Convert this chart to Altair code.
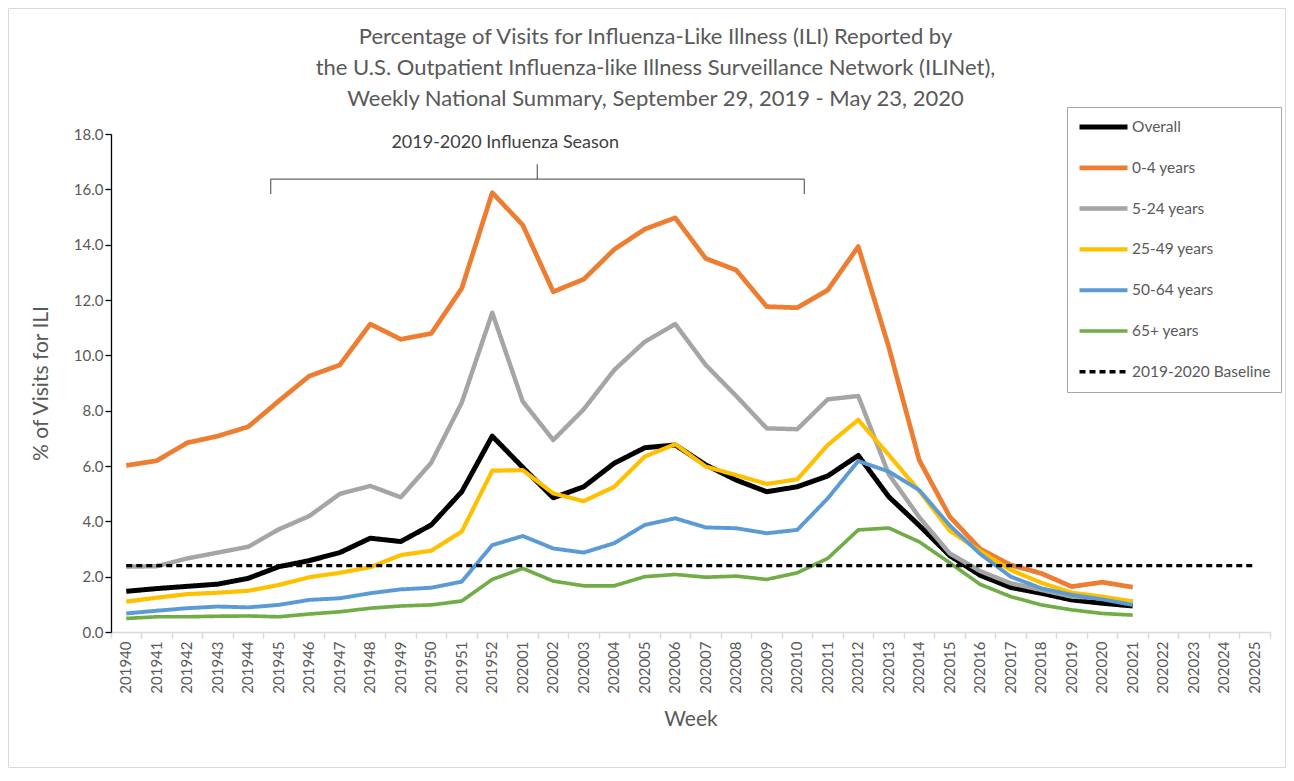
import altair as alt
import pandas as pd

WEEKS = ["201940", "201941", "201942", "201943", "201944", "201945", "201946",
         "201947", "201948", "201949", "201950", "201951", "201952",
         "202001", "202002", "202003", "202004", "202005", "202006", "202007",
         "202008", "202009", "202010", "202011", "202012", "202013", "202014",
         "202015", "202016", "202017", "202018", "202019", "202020", "202021",
         "202022", "202023", "202024", "202025"]

OVERALL = [1.47, 1.57, 1.65, 1.73, 1.94, 2.36, 2.58, 2.87, 3.39, 3.27, 3.87, 5.07,
           7.08, 5.95, 4.85, 5.25, 6.10, 6.66, 6.76, 6.04, 5.49, 5.07, 5.25, 5.64,
           6.38, 4.89, 3.85, 2.76, 2.05, 1.61, 1.40, 1.16, 1.04, 0.94]
AGE_0_4 = [6.02, 6.19, 6.84, 7.08, 7.42, 8.35, 9.25, 9.65, 11.13, 10.58, 10.79, 12.42,
           15.88, 14.71, 12.30, 12.75, 13.83, 14.56, 14.97, 13.50, 13.08, 11.76, 11.72,
           12.36, 13.93, 10.30, 6.21, 4.17, 3.00, 2.42, 2.12, 1.64, 1.80, 1.62]
AGE_5_24 = [2.36, 2.38, 2.66, 2.87, 3.08, 3.71, 4.19, 4.99, 5.28, 4.87, 6.12, 8.29,
            11.54, 8.33, 6.94, 8.05, 9.47, 10.49, 11.13, 9.65, 8.53, 7.36, 7.33, 8.41,
            8.53, 5.70, 4.15, 2.84, 2.20, 1.76, 1.52, 1.28, 1.22, 1.10]
AGE_25_49 = [1.10, 1.24, 1.37, 1.42, 1.49, 1.70, 1.98, 2.14, 2.34, 2.78, 2.94, 3.63,
             5.83, 5.85, 5.01, 4.73, 5.25, 6.34, 6.79, 5.98, 5.67, 5.35, 5.52, 6.76,
             7.67, 6.40, 5.10, 3.66, 2.92, 2.24, 1.78, 1.42, 1.28, 1.10]
AGE_50_64 = [0.67, 0.77, 0.86, 0.92, 0.89, 0.98, 1.16, 1.22, 1.40, 1.54, 1.60, 1.82,
             3.14, 3.47, 3.02, 2.87, 3.21, 3.87, 4.11, 3.78, 3.75, 3.57, 3.69, 4.83,
             6.18, 5.80, 5.13, 3.85, 2.82, 2.00, 1.58, 1.34, 1.18, 0.98]
AGE_65 = [0.49, 0.55, 0.55, 0.57, 0.58, 0.55, 0.65, 0.73, 0.86, 0.94, 0.98, 1.12,
          1.90, 2.30, 1.84, 1.67, 1.67, 2.00, 2.08, 1.98, 2.02, 1.90, 2.14, 2.66,
          3.69, 3.76, 3.26, 2.50, 1.72, 1.28, 0.98, 0.80, 0.67, 0.61]
BASELINE = 2.4

SERIES = ["Overall", "0-4 years", "5-24 years", "25-49 years", "50-64 years",
          "65+ years", "2019-2020 Baseline"]
VALUES = [OVERALL, AGE_0_4, AGE_5_24, AGE_25_49, AGE_50_64, AGE_65]
COLORS = ["#000000", "#ED7D31", "#A5A5A5", "#FFC000", "#5B9BD5", "#70AD47", "#000000"]
WIDTHS = [5, 3.4, 3.4, 3.4, 3.4, 3.4, 1.5]
DASHES = [[1, 0], [1, 0], [1, 0], [1, 0], [1, 0], [1, 0], [6, 4]]

TITLE = ["Percentage of Visits for Influenza-Like Illness (ILI) Reported by",
         "the U.S. Outpatient Influenza-like Illness Surveillance Network (ILINet),",
         "Weekly National Summary, September 29, 2019 - May 23, 2020"]
SEASON_LABEL = "2019-2020 Influenza Season"
SEASON_START, SEASON_MID, SEASON_END = "201945", "202001", "202010"
LABEL_WEEK = "201952"

rows = []
for name, vals in zip(SERIES[:-1], VALUES):
    for w, v in zip(WEEKS, vals):
        rows.append({"week": w, "series": name, "value": v})
for w in WEEKS:
    rows.append({"week": w, "series": SERIES[-1], "value": BASELINE})
df = pd.DataFrame(rows)

FONT = "Lato"
GRAY = "#595959"
W, H = 1159, 498
PAD = {"left": 103, "top": 126, "right": 16, "bottom": 136}

x_scale = alt.Scale(domain=WEEKS, type="band", paddingInner=0, paddingOuter=0)
y_scale = alt.Scale(domain=[0, 18], nice=False)

x_axis = alt.Axis(title="Week", labelAngle=270, labelFontSize=15, labelColor=GRAY,
                  labelFont=FONT, domainColor="#d9d9d9", domainWidth=1.5,
                  tickColor="#d9d9d9", tickWidth=1.5, tickSize=6, bandPosition=1,
                  tickExtra=True, labelPadding=3, titleFontSize=21, titleColor=GRAY,
                  titleFont=FONT, titleFontWeight="normal", titlePadding=15, grid=False)
y_axis = alt.Axis(title="% of Visits for ILI", values=[0, 2, 4, 6, 8, 10, 12, 14, 16, 18],
                  format=".1f", labelFontSize=15, labelColor=GRAY, labelFont=FONT,
                  domainColor="#000000", domainWidth=1.3, tickColor="#000000",
                  tickWidth=1.3, tickSize=6, labelPadding=2, titleFontSize=21,
                  titleColor=GRAY, titleFont=FONT, titleFontWeight="normal",
                  titlePadding=22, grid=False)

legend = alt.Legend(orient="none", legendX=956, legendY=-27, symbolType="stroke",
                    symbolSize=2304, clipHeight=20, rowPadding=20.8, labelFontSize=15.5,
                    labelColor=GRAY, labelFont=FONT, labelOffset=2,
                    strokeColor="#a6a6a6", padding=10, fillColor="white",
                    direction="vertical", labelLimit=300)

lines = alt.Chart(df).mark_line(strokeJoin="round", strokeCap="butt").encode(
    x=alt.X("week:O", scale=x_scale, bandPosition=0.5, axis=x_axis),
    y=alt.Y("value:Q", scale=y_scale, axis=y_axis),
    color=alt.Color("series:N", scale=alt.Scale(domain=SERIES, range=COLORS),
                    legend=legend, title=None),
    strokeWidth=alt.StrokeWidth("series:N", scale=alt.Scale(domain=SERIES, range=WIDTHS),
                                title=None),
    strokeDash=alt.StrokeDash("series:N", scale=alt.Scale(domain=SERIES, range=DASHES),
                              title=None),
    order=alt.Order("week:O"),
)

bdf = pd.DataFrame({"start": [SEASON_START], "mid": [SEASON_MID], "end": [SEASON_END],
                    "label": [SEASON_LABEL], "lw": [LABEL_WEEK]})
BR_Y, BR_LOW, BR_HIGH = 16.37, 15.83, 16.91
BR_COLOR = "#404040"

br_h = alt.Chart(bdf).mark_rule(color=BR_COLOR, strokeWidth=1, xOffset=-8, x2Offset=7).encode(
    x=alt.X("start:O", scale=x_scale), x2="end:O", y=alt.datum(BR_Y))
br_l = alt.Chart(bdf).mark_rule(color=BR_COLOR, strokeWidth=1, xOffset=-8).encode(
    x=alt.X("start:O", scale=x_scale), y=alt.datum(BR_LOW), y2=alt.datum(BR_Y))
br_r = alt.Chart(bdf).mark_rule(color=BR_COLOR, strokeWidth=1, xOffset=7).encode(
    x=alt.X("end:O", scale=x_scale), y=alt.datum(BR_LOW), y2=alt.datum(BR_Y))
br_m = alt.Chart(bdf).mark_rule(color=BR_COLOR, strokeWidth=1, xOffset=14.5).encode(
    x=alt.X("mid:O", scale=x_scale), y=alt.datum(BR_Y), y2=alt.datum(BR_HIGH))
br_t = alt.Chart(bdf).mark_text(fontSize=18, font=FONT, color=BR_COLOR, dx=13,
                                baseline="middle").encode(
    x=alt.X("lw:O", scale=x_scale), y=alt.datum(17.67), text="label:N")

frame = alt.Chart(pd.DataFrame({"a": [0]})).mark_rect(
    filled=False, stroke="#d9d9d9", strokeWidth=1).encode(
    x=alt.value(-PAD["left"] + 0.5), x2=alt.value(W + PAD["right"] - 0.5),
    y=alt.value(-PAD["top"] + 0.5), y2=alt.value(H + PAD["bottom"] - 0.5))

chart = alt.layer(frame, br_h, br_l, br_r, br_m, br_t, lines).properties(
    width=W, height=H,
    autosize=alt.AutoSizeParams(type="none"),
    padding=PAD,
    title=alt.TitleParams(text=TITLE, fontSize=22, font=FONT, color=GRAY,
                          fontWeight="normal", anchor="middle", frame="group",
                          dx=-35, offset=-103, lineHeight=31),
).configure_view(strokeWidth=0)

chart.save("out.html", embed_options={"renderer": "svg", "actions": False})
